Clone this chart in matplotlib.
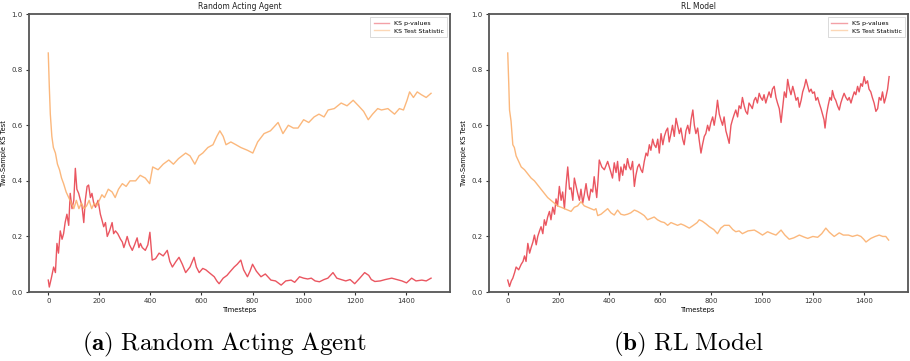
import matplotlib
matplotlib.use("Agg")
import matplotlib.pyplot as plt

plt.rcParams['mathtext.fontset'] = 'cm'

# (timestep, value) pairs
random_pvalues = [
    (0, 0.043), (4, 0.018), (12, 0.05), (21, 0.09), (28, 0.07), (34, 0.175), (40, 0.14), (47, 0.22),
    (54, 0.19), (60, 0.21), (66, 0.25), (73, 0.28), (80, 0.24), (86, 0.355), (93, 0.30), (100, 0.33),
    (106, 0.445), (112, 0.37), (119, 0.355), (126, 0.33), (132, 0.31), (139, 0.25), (145, 0.33),
    (152, 0.38), (158, 0.385), (165, 0.34), (171, 0.355), (178, 0.32), (185, 0.305), (195, 0.33),
    (204, 0.28), (210, 0.26), (217, 0.235), (224, 0.25), (231, 0.20), (240, 0.22), (250, 0.25),
    (256, 0.21), (263, 0.22), (272, 0.21), (283, 0.19), (290, 0.18), (296, 0.16), (303, 0.18),
    (309, 0.20), (318, 0.17), (329, 0.15), (338, 0.17), (348, 0.195), (355, 0.16), (361, 0.175),
    (368, 0.16), (380, 0.15), (390, 0.17), (398, 0.215), (407, 0.115), (420, 0.12), (434, 0.14),
    (450, 0.13), (466, 0.15), (476, 0.11), (486, 0.09), (500, 0.11), (512, 0.125), (525, 0.10),
    (538, 0.07), (555, 0.09), (571, 0.125), (580, 0.09), (591, 0.07), (605, 0.085), (617, 0.08),
    (630, 0.07), (650, 0.055), (660, 0.04), (669, 0.03), (685, 0.05), (700, 0.06), (709, 0.07),
    (728, 0.09), (740, 0.10), (754, 0.115), (765, 0.08), (780, 0.055), (790, 0.075), (800, 0.10),
    (815, 0.075), (833, 0.055), (850, 0.065), (872, 0.043), (890, 0.04), (912, 0.025), (930, 0.04),
    (951, 0.043), (965, 0.035), (984, 0.055), (1000, 0.05), (1016, 0.047), (1030, 0.05),
    (1045, 0.04), (1062, 0.037), (1080, 0.045), (1095, 0.05), (1115, 0.07), (1130, 0.05),
    (1147, 0.045), (1165, 0.04), (1182, 0.045), (1200, 0.03), (1220, 0.05), (1239, 0.07),
    (1255, 0.06), (1265, 0.045), (1279, 0.038), (1300, 0.04), (1320, 0.045), (1345, 0.05),
    (1365, 0.045), (1385, 0.04), (1403, 0.033), (1423, 0.05), (1440, 0.04), (1463, 0.043),
    (1480, 0.04), (1499, 0.05),
]

random_stat = [
    (0, 0.86), (4, 0.74), (8, 0.64), (14, 0.56), (20, 0.52), (28, 0.50), (36, 0.46), (44, 0.44),
    (52, 0.41), (60, 0.39), (70, 0.36), (80, 0.34), (90, 0.32), (100, 0.30), (110, 0.33),
    (120, 0.30), (130, 0.32), (140, 0.30), (150, 0.31), (160, 0.33), (170, 0.30), (180, 0.32),
    (190, 0.31), (200, 0.33), (210, 0.35), (220, 0.34), (235, 0.37), (250, 0.36), (262, 0.34),
    (275, 0.37), (290, 0.39), (305, 0.38), (320, 0.40), (342, 0.40), (360, 0.42), (380, 0.41),
    (397, 0.39), (409, 0.45), (430, 0.44), (450, 0.46), (472, 0.475), (490, 0.46), (510, 0.48),
    (538, 0.50), (555, 0.49), (574, 0.46), (590, 0.49), (605, 0.50), (625, 0.52), (645, 0.53),
    (660, 0.56), (672, 0.58), (685, 0.56), (696, 0.53), (715, 0.54), (735, 0.53), (754, 0.52),
    (780, 0.51), (801, 0.50), (820, 0.54), (845, 0.57), (870, 0.58), (900, 0.61), (919, 0.57),
    (940, 0.60), (960, 0.59), (978, 0.59), (1000, 0.62), (1020, 0.61), (1041, 0.63), (1060, 0.64),
    (1080, 0.63), (1096, 0.655), (1120, 0.66), (1147, 0.68), (1170, 0.67), (1194, 0.69),
    (1215, 0.67), (1235, 0.65), (1253, 0.62), (1270, 0.64), (1290, 0.66), (1305, 0.655),
    (1330, 0.66), (1356, 0.64), (1375, 0.66), (1391, 0.655), (1405, 0.69), (1415, 0.72),
    (1430, 0.70), (1445, 0.72), (1461, 0.71), (1480, 0.70), (1499, 0.715),
]

rl_pvalues = [
    (0, 0.043), (7, 0.02), (14, 0.04), (20, 0.05), (27, 0.07), (33, 0.09), (43, 0.08), (53, 0.10),
    (60, 0.11), (66, 0.13), (72, 0.11), (79, 0.175), (86, 0.14), (92, 0.16), (99, 0.18),
    (105, 0.205), (112, 0.17), (118, 0.20), (125, 0.22), (131, 0.235), (138, 0.21), (144, 0.26),
    (150, 0.24), (157, 0.27), (164, 0.29), (170, 0.26), (177, 0.305), (184, 0.28), (190, 0.335),
    (196, 0.31), (203, 0.38), (210, 0.33), (216, 0.36), (223, 0.30), (230, 0.39), (236, 0.45),
    (243, 0.37), (249, 0.375), (256, 0.33), (262, 0.41), (269, 0.38), (275, 0.355), (282, 0.33),
    (288, 0.37), (295, 0.32), (301, 0.35), (308, 0.39), (314, 0.35), (320, 0.33), (327, 0.37),
    (334, 0.36), (340, 0.415), (346, 0.37), (350, 0.34), (355, 0.40), (360, 0.475), (370, 0.45),
    (380, 0.44), (393, 0.47), (406, 0.43), (412, 0.41), (419, 0.465), (426, 0.43), (432, 0.47),
    (439, 0.40), (445, 0.45), (452, 0.42), (458, 0.46), (465, 0.44), (471, 0.48), (478, 0.45),
    (484, 0.44), (491, 0.47), (498, 0.38), (504, 0.42), (511, 0.45), (517, 0.46), (524, 0.44),
    (530, 0.43), (537, 0.47), (544, 0.50), (550, 0.49), (557, 0.53), (563, 0.51), (570, 0.55),
    (576, 0.53), (583, 0.52), (590, 0.55), (596, 0.50), (603, 0.57), (610, 0.53), (616, 0.56),
    (623, 0.58), (629, 0.59), (635, 0.54), (642, 0.57), (648, 0.60), (655, 0.56), (662, 0.625),
    (668, 0.60), (675, 0.57), (681, 0.59), (688, 0.55), (694, 0.53), (701, 0.58), (708, 0.60),
    (715, 0.57), (721, 0.62), (728, 0.655), (734, 0.60), (740, 0.57), (747, 0.59), (753, 0.547),
    (760, 0.50), (766, 0.53), (773, 0.56), (779, 0.57), (786, 0.60), (792, 0.58), (799, 0.61),
    (806, 0.63), (812, 0.60), (819, 0.64), (825, 0.69), (832, 0.64), (838, 0.62), (845, 0.60),
    (851, 0.63), (858, 0.58), (864, 0.56), (871, 0.535), (878, 0.60), (884, 0.62), (891, 0.64),
    (897, 0.655), (904, 0.63), (910, 0.67), (917, 0.66), (923, 0.70), (930, 0.67), (936, 0.65),
    (943, 0.64), (949, 0.68), (956, 0.67), (962, 0.66), (969, 0.69), (975, 0.70), (982, 0.68),
    (989, 0.715), (995, 0.70), (1002, 0.69), (1008, 0.71), (1015, 0.68), (1021, 0.70),
    (1028, 0.72), (1035, 0.70), (1041, 0.73), (1048, 0.74), (1055, 0.70), (1061, 0.68),
    (1068, 0.66), (1075, 0.61), (1081, 0.66), (1088, 0.72), (1095, 0.70), (1101, 0.765),
    (1108, 0.73), (1114, 0.71), (1121, 0.74), (1128, 0.715), (1134, 0.69), (1141, 0.70),
    (1147, 0.665), (1154, 0.69), (1160, 0.72), (1167, 0.74), (1173, 0.765), (1180, 0.74),
    (1186, 0.72), (1193, 0.73), (1199, 0.715), (1206, 0.72), (1212, 0.69), (1219, 0.70),
    (1225, 0.68), (1232, 0.66), (1238, 0.64), (1244, 0.62), (1248, 0.59), (1254, 0.64),
    (1260, 0.67), (1267, 0.70), (1273, 0.69), (1277, 0.725), (1284, 0.70), (1290, 0.69),
    (1297, 0.67), (1304, 0.655), (1310, 0.68), (1317, 0.70), (1323, 0.715), (1330, 0.70),
    (1337, 0.69), (1343, 0.70), (1350, 0.68), (1356, 0.70), (1363, 0.72), (1369, 0.71),
    (1376, 0.74), (1382, 0.72), (1389, 0.75), (1395, 0.74), (1402, 0.775), (1408, 0.75),
    (1415, 0.76), (1421, 0.73), (1428, 0.72), (1434, 0.70), (1441, 0.68), (1448, 0.65),
    (1455, 0.66), (1461, 0.70), (1468, 0.69), (1474, 0.72), (1481, 0.68), (1487, 0.70),
    (1494, 0.73), (1500, 0.775),
]

rl_stat = [
    (0, 0.86), (4, 0.75), (7, 0.655), (13, 0.615), (20, 0.53), (26, 0.52), (33, 0.49), (43, 0.47),
    (53, 0.45), (66, 0.44), (79, 0.425), (92, 0.41), (105, 0.40), (118, 0.385), (131, 0.37),
    (144, 0.355), (157, 0.34), (170, 0.33), (183, 0.32), (196, 0.31), (210, 0.305), (223, 0.30),
    (236, 0.295), (249, 0.29), (262, 0.305), (275, 0.31), (288, 0.325), (301, 0.31), (314, 0.305),
    (327, 0.30), (340, 0.295), (347, 0.30), (354, 0.275), (367, 0.28), (380, 0.29), (393, 0.30),
    (406, 0.285), (419, 0.277), (432, 0.295), (445, 0.28), (458, 0.277), (471, 0.28), (484, 0.285),
    (498, 0.295), (511, 0.29), (524, 0.283), (537, 0.275), (550, 0.26), (563, 0.265), (576, 0.27),
    (589, 0.26), (603, 0.253), (616, 0.25), (629, 0.24), (642, 0.25), (655, 0.245), (668, 0.24),
    (681, 0.245), (694, 0.24), (714, 0.23), (730, 0.24), (745, 0.25), (753, 0.26), (765, 0.255),
    (780, 0.245), (793, 0.235), (810, 0.225), (825, 0.21), (838, 0.23), (852, 0.24), (871, 0.24),
    (885, 0.225), (897, 0.217), (910, 0.22), (923, 0.21), (945, 0.22), (970, 0.223), (985, 0.215),
    (1002, 0.205), (1022, 0.217), (1040, 0.21), (1055, 0.205), (1075, 0.223), (1090, 0.205),
    (1107, 0.19), (1125, 0.195), (1147, 0.205), (1165, 0.198), (1180, 0.193), (1200, 0.20),
    (1219, 0.197), (1235, 0.21), (1251, 0.23), (1265, 0.215), (1284, 0.20), (1304, 0.213),
    (1320, 0.205), (1340, 0.205), (1356, 0.20), (1375, 0.205), (1389, 0.20), (1400, 0.19),
    (1409, 0.18), (1428, 0.193), (1445, 0.20), (1461, 0.205), (1475, 0.20), (1487, 0.20),
    (1498, 0.187),
]

titles = ["Random Acting Agent", "RL Model"]
captions = [r"$\mathbf{(a)}\ \mathrm{Random\ Acting\ Agent}$", r"$\mathbf{(b)}\ \mathrm{RL\ Model}$"]

red = "#e8434f"
orange = "#fbb06e"

fig = plt.figure(figsize=(9.1, 3.61), dpi=100)
ax1 = fig.add_axes([0.032, 0.191, 0.463, 0.770])
ax2 = fig.add_axes([0.537, 0.191, 0.461, 0.770])

panels = [(ax1, random_pvalues, random_stat), (ax2, rl_pvalues, rl_stat)]
for i, (ax, pv, st) in enumerate(panels):
    t_p, v_p = zip(*pv)
    t_s, v_s = zip(*st)
    ax.plot(t_p, v_p, color=red, lw=1.0, alpha=0.9, label="KS p-values")
    ax.plot(t_s, v_s, color=orange, lw=1.0, alpha=0.9, label="KS Test Statistic")
    ax.set_xlim(-75, 1575)
    ax.set_ylim(0, 1.0)
    ax.set_title(titles[i], fontsize=5.5, pad=4, color="#222222")
    ax.set_xlabel("Timesteps", fontsize=4.8, labelpad=2)
    ax.set_ylabel("Two-Sample KS Test", fontsize=4.8, labelpad=3)
    ax.tick_params(labelsize=5, length=2.5, width=0.8, pad=2, colors="#333333")
    for sp in ax.spines.values():
        sp.set_linewidth(1.3)
        sp.set_color("#555555")
    leg = ax.legend(loc="upper right", fontsize=4.5, handlelength=2.5, borderpad=0.5,
                    labelspacing=0.4, framealpha=1, fancybox=False)
    leg.get_frame().set_linewidth(0.5)
    leg.get_frame().set_edgecolor("#cccccc")
    for line in leg.get_lines():
        line.set_alpha(0.5)

fig.text(0.247, 0.03, captions[0], fontsize=18, ha="center")
fig.text(0.757, 0.03, captions[1], fontsize=18, ha="center")

fig.savefig("out.png", dpi=100)
